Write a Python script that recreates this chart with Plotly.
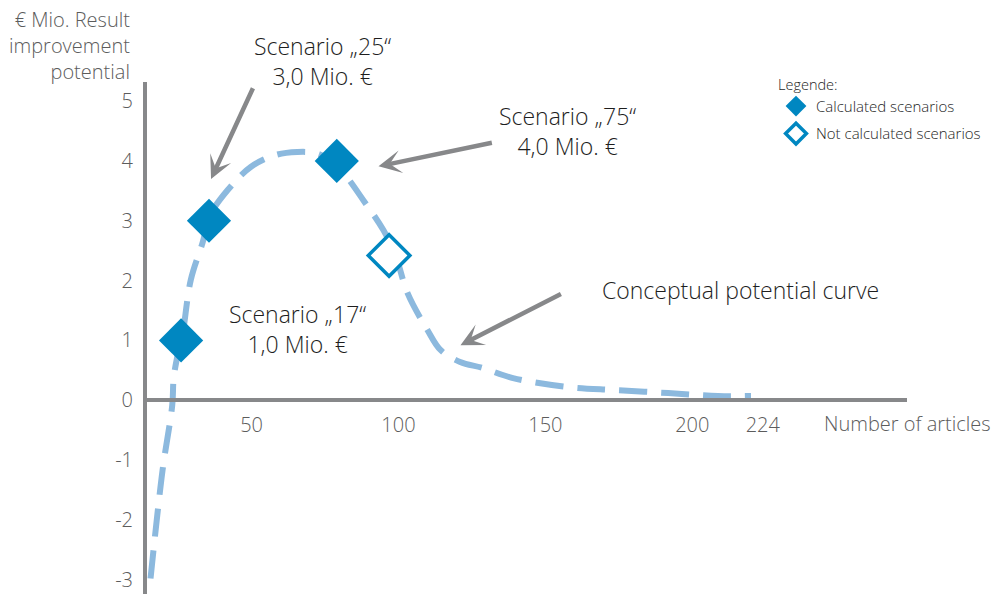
import plotly.graph_objects as go

# Conceptual result-improvement curve (number of articles -> € Mio.)
curve_x = [15.6, 19.7, 23.0, 23.5, 25.2, 26.5, 29.3, 33.3, 36.1, 41.8, 49.7, 58.2, 65.6,
           71.8, 76.9, 81.3, 88.1, 94.9, 99.0, 103.1, 109.9, 114.3, 121.0, 128.6, 139.0,
           157.8, 173.5, 191.8, 208.8, 220.0]
curve_y = [-2.98, -1.17, -0.08, 0.38, 0.84, 1.10, 2.01, 2.63, 3.11, 3.51, 3.90, 4.10, 4.15,
           4.13, 4.01, 3.80, 3.34, 2.84, 2.42, 1.79, 1.17, 0.84, 0.64, 0.54, 0.37,
           0.22, 0.17, 0.12, 0.07, 0.07]

# Calculated scenarios: position on the curve and result in € Mio.
calc_names = ["Scenario „17“", "Scenario „25“", "Scenario „75“"]
calc_x = [26.0, 35.5, 79.0]
calc_y = [1.0, 3.0, 4.0]

# Not calculated scenario
open_x = [96.8]
open_y = [2.42]

x_ticks = [50, 100, 150, 200, 224]
y_ticks = [-3, -2, -1, 0, 1, 2, 3, 4, 5]

X_RANGE = [14.4, 273.1]
Y_RANGE = [-3.24, 5.32]

AXIS_GREY = "#87888a"
LABEL_GREY = "#5c5c5c"
TEXT_DARK = "#1e1e1e"
BLUE = "#0087c1"
LIGHT_BLUE = "#8cb9de"
FONT = "Open Sans, Liberation Sans, sans-serif"
W = 300  # light text weight

fig = go.Figure()

fig.add_trace(go.Scatter(
    x=curve_x, y=curve_y, mode="lines", line_shape="spline",
    line=dict(color=LIGHT_BLUE, width=6, dash="28px,14px"),
    showlegend=False, hoverinfo="skip",
))

fig.add_trace(go.Scatter(
    x=calc_x, y=calc_y, mode="markers", name="Calculated scenarios",
    legendgroup="a",
    marker=dict(symbol="diamond", size=34, color=BLUE, line=dict(width=0)),
    text=calc_names, hoverinfo="text+y",
))

fig.add_trace(go.Scatter(
    x=open_x, y=open_y, mode="markers", name="Not calculated scenarios",
    legendgroup="b",
    marker=dict(symbol="diamond", size=32, color="white", line=dict(width=3.5, color=BLUE)),
    hoverinfo="y",
))

annotations = []

# Scenario labels (paper positions relative to the plot area)
label_font = dict(family=FONT, size=23, color=TEXT_DARK, weight=W)
scenario_labels = [
    ("Scenario „25“<br>3,0 Mio. €", (322 - 147) / 760, 1.0 + 21 / 512),
    ("Scenario „75“<br>4,0 Mio. €", (567 - 147) / 760, 1.0 - 49 / 512),
    ("Scenario „17“<br>1,0 Mio. €", (297 - 147) / 760, 1.0 - 247 / 512),
]
for txt, px, py in scenario_labels:
    annotations.append(dict(
        text=txt, x=px, y=py, xref="paper", yref="paper", showarrow=False,
        xanchor="center", yanchor="middle", align="center", font=label_font,
    ))

annotations.append(dict(
    text="Conceptual potential curve", x=(600 - 147) / 760, y=1.0 - 208 / 512,
    xref="paper", yref="paper", showarrow=False, xanchor="left", yanchor="middle",
    font=label_font,
))

# Pointer arrows (head, tail) in data units
arrows = [
    ((36.2, 3.70), (50.7, 5.24)),
    ((93.2, 3.91), (132.3, 4.31)),
    ((121.1, 0.92), (155.8, 1.79)),
]
for (hx, hy), (tx, ty) in arrows:
    annotations.append(dict(
        x=hx, y=hy, ax=tx, ay=ty, xref="x", yref="y", axref="x", ayref="y",
        text="", showarrow=True, arrowhead=3, arrowsize=0.85, arrowwidth=4.5,
        arrowcolor=AXIS_GREY,
    ))

# Axis captions
annotations.append(dict(
    text="€ Mio. Result<br>improvement<br>potential",
    x=(132 - 147) / 760, y=1.0 + 78 / 512,
    xref="paper", yref="paper", showarrow=False, align="right",
    xanchor="right", yanchor="top",
    font=dict(family=FONT, size=20, color=LABEL_GREY, weight=W),
))
annotations.append(dict(
    text="Number of articles", x=(822 - 147) / 760, y=1.0 - 341 / 512,
    xref="paper", yref="paper", showarrow=False, xanchor="left", yanchor="middle",
    font=dict(family=FONT, size=20, color=LABEL_GREY, weight=W),
))

zero_pos = (0 - Y_RANGE[0]) / (Y_RANGE[1] - Y_RANGE[0])

fig.update_layout(
    width=995, height=594,
    margin=dict(l=147, r=88, t=82, b=0),
    paper_bgcolor="white", plot_bgcolor="white",
    font=dict(family=FONT, color=LABEL_GREY),
    xaxis=dict(
        range=X_RANGE, tickvals=x_ticks, ticktext=[str(v) for v in x_ticks],
        showgrid=False, zeroline=False, showline=True, linewidth=4, linecolor=AXIS_GREY,
        anchor="free", position=zero_pos, ticks="", ticklabelstandoff=6,
        tickfont=dict(family=FONT, size=20, color=LABEL_GREY, weight=W),
    ),
    yaxis=dict(
        range=Y_RANGE, tickvals=y_ticks, ticktext=[str(v) for v in y_ticks],
        showgrid=False, zeroline=False,
        showline=True, linewidth=4, linecolor=AXIS_GREY, ticks="",
        ticklabelstandoff=6,
        tickfont=dict(family=FONT, size=20, color=LABEL_GREY, weight=W),
    ),
    legend=dict(
        x=(776 - 147) / 760, y=1.0 + 11 / 512, xanchor="left", yanchor="top",
        title=dict(text="Legende:", font=dict(family=FONT, size=14.5, color=TEXT_DARK, weight=W)),
        font=dict(family=FONT, size=15, color=TEXT_DARK, weight=W),
        tracegroupgap=5, itemsizing="trace", bgcolor="rgba(0,0,0,0)",
    ),
    annotations=annotations,
)

fig.write_html("out.html")
